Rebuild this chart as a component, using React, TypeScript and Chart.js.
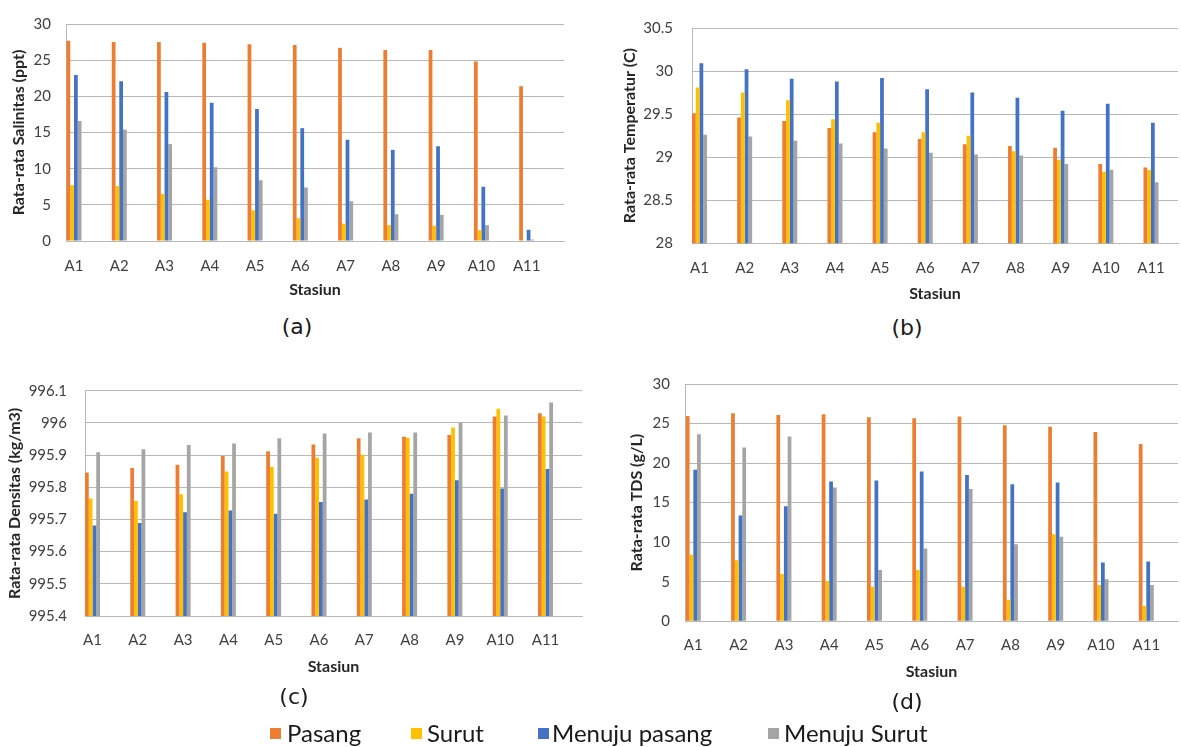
import React, { useEffect, useRef } from "react";
import { Chart, registerables } from "chart.js";

Chart.register(...registerables);

// ---------- data ----------
const stations = ["A1", "A2", "A3", "A4", "A5", "A6", "A7", "A8", "A9", "A10", "A11"];
const seriesNames = ["Pasang", "Surut", "Menuju pasang", "Menuju Surut"];
const seriesColors = ["#ED7D31", "#FFC000", "#4472C4", "#A5A5A5"];

// (a) salinity, ppt
const salPasang = [27.7, 27.5, 27.5, 27.4, 27.2, 27.1, 26.7, 26.4, 26.4, 24.8, 21.4];
const salSurut = [7.7, 7.6, 6.5, 5.7, 4.25, 3.15, 2.4, 2.2, 2.1, 1.5, 0];
const salMenujuPasang = [22.95, 22.1, 20.6, 19.1, 18.25, 15.6, 14.0, 12.6, 13.1, 7.5, 1.55];
const salMenujuSurut = [16.6, 15.4, 13.4, 10.2, 8.4, 7.4, 5.5, 3.7, 3.6, 2.2, 0.2];
const salTicks = [0, 5, 10, 15, 20, 25, 30];

// (b) temperature, C
const tempPasang = [29.51, 29.46, 29.42, 29.34, 29.29, 29.21, 29.15, 29.13, 29.11, 28.92, 28.88];
const tempSurut = [29.81, 29.75, 29.66, 29.44, 29.4, 29.29, 29.25, 29.07, 28.97, 28.83, 28.85];
const tempMenujuPasang = [30.09, 30.02, 29.91, 29.88, 29.92, 29.79, 29.75, 29.69, 29.54, 29.62, 29.4];
const tempMenujuSurut = [29.26, 29.24, 29.19, 29.16, 29.1, 29.05, 29.03, 29.02, 28.92, 28.85, 28.71];
const tempTicks = [28, 28.5, 29, 29.5, 30, 30.5];

// (c) density, kg/m3
const denPasang = [995.846, 995.86, 995.87, 995.897, 995.912, 995.933, 995.952, 995.957, 995.962, 996.02, 996.03];
const denSurut = [995.765, 995.757, 995.778, 995.849, 995.863, 995.892, 995.901, 995.954, 995.986, 996.044, 996.02];
const denMenujuPasang = [995.681, 995.689, 995.722, 995.728, 995.718, 995.754, 995.762, 995.78, 995.822, 995.796, 995.857];
const denMenujuSurut = [995.909, 995.918, 995.931, 995.936, 995.952, 995.967, 995.97, 995.97, 996.001, 996.023, 996.063];
const denTicks = [995.4, 995.5, 995.6, 995.7, 995.8, 995.9, 996, 996.1];

// (d) TDS, g/L
const tdsPasang = [25.96, 26.29, 26.08, 26.17, 25.79, 25.67, 25.88, 24.8, 24.6, 23.94, 22.41];
const tdsSurut = [8.42, 7.72, 5.98, 5.08, 4.37, 6.48, 4.37, 2.72, 11.02, 4.58, 1.94];
const tdsMenujuPasang = [19.15, 13.37, 14.53, 17.66, 17.79, 18.94, 18.49, 17.33, 17.54, 7.43, 7.55];
const tdsMenujuSurut = [23.65, 21.96, 23.36, 16.92, 6.48, 9.2, 16.71, 9.74, 10.69, 5.32, 4.58];
const tdsTicks = [0, 5, 10, 15, 20, 25, 30];

// ---------- styling ----------
const FONT = "Lato, 'Open Sans', sans-serif";
const TICK_SIZE = 15;
const TITLE_SIZE = 16;
const GRID = "#b8b8b8";
const TICK_COLOR = "#404040";
const TITLE_COLOR = "#262626";

type PanelDef = {
  id: string;
  yTitle: string;
  series: number[][];
  yTicks: number[];
  left: number; top: number; width: number; height: number;
  areaL: number; areaT: number; areaR: number; areaB: number;
  labelY: number; titleY: number; yTitleX: number; yTickRight: number;
  firstC: number; lastC: number;
  tag: string; tagX: number; tagY: number;
};

const panels: PanelDef[] = [
  {
    id: "a", yTitle: "Rata-rata Salinitas (ppt)",
    series: [salPasang, salSurut, salMenujuPasang, salMenujuSurut], yTicks: salTicks,
    left: 0, top: 0, width: 590, height: 310,
    areaL: 66, areaT: 15, areaR: 564, areaB: 241,
    labelY: 266, titleY: 290, yTitleX: 18.5, yTickRight: 51,
    firstC: 74, lastC: 526.7, tag: "(a)", tagX: 297, tagY: 327,
  },
  {
    id: "b", yTitle: "Rata-rata Temperatur (C)",
    series: [tempPasang, tempSurut, tempMenujuPasang, tempMenujuSurut], yTicks: tempTicks,
    left: 590, top: 0, width: 591, height: 310,
    areaL: 692, areaT: 17.3, areaR: 1178, areaB: 243.3,
    labelY: 268, titleY: 294, yTitleX: 630, yTickRight: 673,
    firstC: 699.5, lastC: 1151, tag: "(b)", tagX: 907, tagY: 328,
  },
  {
    id: "c", yTitle: "Rata-rata Densitas (kg/m3)",
    series: [denPasang, denSurut, denMenujuPasang, denMenujuSurut], yTicks: denTicks,
    left: 0, top: 360, width: 590, height: 330,
    areaL: 85, areaT: 390.7, areaR: 582, areaB: 616,
    labelY: 640, titleY: 667, yTitleX: 15, yTickRight: 67,
    firstC: 92.5, lastC: 545.5, tag: "(c)", tagX: 294, tagY: 697,
  },
  {
    id: "d", yTitle: "Rata-rata TDS (g/L)",
    series: [tdsPasang, tdsSurut, tdsMenujuPasang, tdsMenujuSurut], yTicks: tdsTicks,
    left: 590, top: 360, width: 591, height: 330,
    areaL: 685, areaT: 379, areaR: 1178, areaB: 621.3,
    labelY: 645, titleY: 672, yTitleX: 637, yTickRight: 670,
    firstC: 693.3, lastC: 1146.3, tag: "(d)", tagX: 907, tagY: 702,
  },
];

const legendLayout = [
  { sq: 270, text: 287 },
  { sq: 411, text: 427 },
  { sq: 538, text: 552 },
  { sq: 768, text: 784 },
];

function Panel({ p }: { p: PanelDef }) {
  const ref = useRef<HTMLCanvasElement | null>(null);
  useEffect(() => {
    if (!ref.current) return;
    const tickLH = TICK_SIZE * 1.2;
    const titleLH = TITLE_SIZE * 1.2;
    const xh = p.titleY + titleLH / 2 - p.areaB;
    const n = stations.length;
    const spacing = (p.lastC - p.firstC) / (n - 1);
    const xMin = -(p.firstC - p.areaL) / spacing;
    const xMax = n - 1 + (p.areaR - p.lastC) / spacing;
    const groupPx = 15;

    const chart = new Chart(ref.current, {
      type: "bar",
      data: {
        datasets: p.series.map((vals, k) => ({
          label: seriesNames[k],
          data: vals.map((v, i) => ({ x: i, y: v })),
          backgroundColor: seriesColors[k],
          borderWidth: 0,
          categoryPercentage: groupPx / spacing,
          barPercentage: 1,
        })),
      },
      options: {
        animation: false,
        responsive: false,
        layout: {
          padding: {
            left: 0,
            top: p.areaT - p.top,
            right: p.left + p.width - p.areaR,
            bottom: p.top + p.height - (p.areaB + xh),
          },
        },
        plugins: { legend: { display: false }, tooltip: { enabled: false } },
        scales: {
          x: {
            type: "linear",
            offset: false,
            min: xMin,
            max: xMax,
            grid: { display: false, drawTicks: false },
            border: { display: true, color: GRID, width: 1 },
            afterBuildTicks: (s: any) => {
              s.ticks = stations.map((_, i) => ({ value: i }));
            },
            afterFit: (s: any) => {
              s.height = xh;
            },
            ticks: {
              autoSkip: false,
              maxRotation: 0,
              padding: p.labelY - p.areaB - tickLH / 2,
              color: TICK_COLOR,
              font: { family: FONT, size: TICK_SIZE },
              callback: (v: any) => stations[Math.round(Number(v))] ?? "",
            },
            title: {
              display: true,
              text: "Stasiun",
              color: TITLE_COLOR,
              font: { family: FONT, size: TITLE_SIZE, weight: "bold" },
              padding: { top: 0, bottom: 0 },
            },
          },
          y: {
            type: "linear",
            beginAtZero: false,
            min: p.yTicks[0],
            max: p.yTicks[p.yTicks.length - 1],
            grid: { color: GRID, lineWidth: 1, drawTicks: false },
            border: { display: true, color: GRID, width: 1 },
            afterBuildTicks: (s: any) => {
              s.ticks = p.yTicks.map((v) => ({ value: v }));
            },
            afterFit: (s: any) => {
              s.width = p.areaL - p.left;
            },
            ticks: {
              padding: p.areaL - p.yTickRight,
              color: TICK_COLOR,
              font: { family: FONT, size: TICK_SIZE },
              callback: (v: any) => String(Number(Number(v).toFixed(2))),
            },
            title: {
              display: true,
              text: p.yTitle,
              color: TITLE_COLOR,
              font: { family: FONT, size: TITLE_SIZE, weight: "bold" },
              padding: { top: p.yTitleX - p.left - titleLH / 2, bottom: 0 },
            },
          },
        },
      } as any,
    });
    return () => chart.destroy();
  }, [p]);

  return (
    <>
      <canvas
        ref={ref}
        width={p.width}
        height={p.height}
        style={{ position: "absolute", left: p.left, top: p.top, width: p.width, height: p.height }}
      />
      <div
        style={{
          position: "absolute",
          left: p.tagX - 40,
          width: 80,
          top: p.tagY - 14,
          height: 28,
          lineHeight: "28px",
          textAlign: "center",
          fontFamily: "'DejaVu Sans', sans-serif",
          fontSize: 22,
          color: "#1a1a1a",
        }}
      >
        {p.tag}
      </div>
    </>
  );
}

export default function App() {
  return (
    <div
      style={{
        position: "absolute",
        left: 0,
        top: 0,
        width: 1181,
        height: 747,
        background: "#ffffff",
        overflow: "hidden",
      }}
    >
      {panels.map((p) => (
        <Panel key={p.id} p={p} />
      ))}
      {seriesNames.map((name, k) => (
        <React.Fragment key={name}>
          <div
            style={{
              position: "absolute",
              left: legendLayout[k].sq,
              top: 728,
              width: 11,
              height: 11,
              background: seriesColors[k],
            }}
          />
          <div
            style={{
              position: "absolute",
              left: legendLayout[k].text,
              top: 720,
              height: 26,
              lineHeight: "26px",
              fontFamily: FONT,
              fontSize: 24,
              color: "#1a1a1a",
              whiteSpace: "nowrap",
            }}
          >
            {name}
          </div>
        </React.Fragment>
      ))}
    </div>
  );
}
